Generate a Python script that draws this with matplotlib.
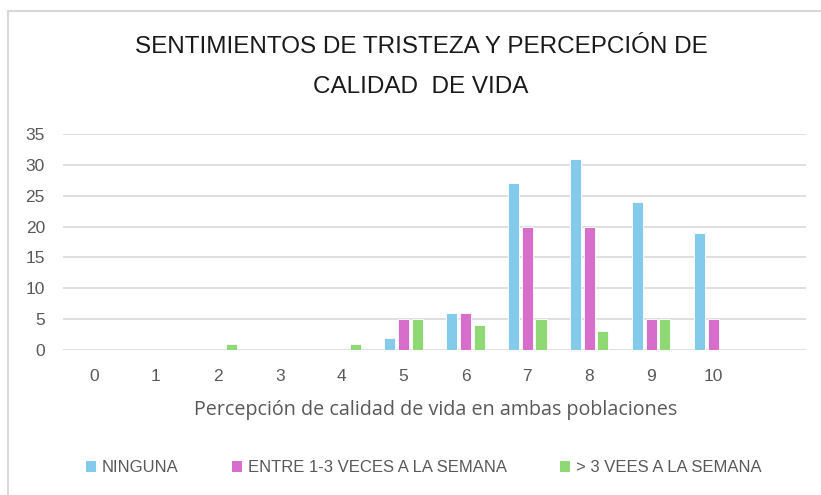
import numpy as np
import matplotlib.pyplot as plt
from matplotlib.lines import Line2D
from matplotlib.patches import Patch

plt.rcParams['font.family'] = ['Liberation Sans', 'DejaVu Sans']

categories = ["0", "1", "2", "3", "4", "5", "6", "7", "8", "9", "10", ""]
ninguna = [0, 0, 0, 0, 0, 2, 6, 27, 31, 24, 19, 0]
entre_1_3 = [0, 0, 0, 0, 0, 5, 6, 20, 20, 5, 5, 0]
mas_de_3 = [0, 0, 1, 0, 1, 5, 4, 5, 3, 5, 0, 0]
series_names = ["NINGUNA", "ENTRE 1-3 VECES A LA SEMANA", "> 3 VEES A LA SEMANA"]
colors = ["#83CAEB", "#D86ECC", "#8ED973"]

fig = plt.figure(figsize=(8.21, 4.95), dpi=100)
ax = fig.add_axes([63 / 821, 1 - 350 / 495, 743 / 821, 216 / 495])

x = np.arange(len(categories))
step = 0.22
width = 0.18
for i, (vals, c) in enumerate(zip([ninguna, entre_1_3, mas_de_3], colors)):
    ax.bar(x + (i - 1) * step, vals, width, color=c, edgecolor="white", linewidth=0.6, zorder=3)

ax.set_xlim(-0.5, len(categories) - 0.5)
ax.set_ylim(0, 35)
ax.set_yticks(np.arange(0, 36, 5))
ax.set_xticks(x)
ax.set_xticklabels(categories)
ax.grid(axis="y", color="#d9d9d9", linewidth=1.2, zorder=0)
for s in ax.spines.values():
    s.set_visible(False)
ax.tick_params(length=0, colors="#595959", labelsize=12.5)
ax.tick_params(axis="y", pad=13)
ax.tick_params(axis="x", pad=14)

fig.text(0.513, 1 - 47 / 495, "SENTIMIENTOS DE TRISTEZA Y PERCEPCIÓN DE", ha="center", va="center",
         fontsize=17.5, color="#1a1a1a")
fig.text(0.513, 1 - 87 / 495, "CALIDAD  DE VIDA", ha="center", va="center",
         fontsize=17.5, color="#1a1a1a")
fig.text(436 / 821, 1 - 410 / 495, "Percepción de calidad de vida en ambas poblaciones", ha="center",
         va="center", fontsize=14.2, color="#595959", family=["Open Sans", "DejaVu Sans"])

handles = [Patch(facecolor=c, edgecolor="none") for c in colors]
fig.legend(handles, series_names, loc="center", bbox_to_anchor=(424 / 821, 1 - 468 / 495), ncol=3,
           frameon=False, fontsize=12, handlelength=0.6, handleheight=0.6, handletextpad=0.35,
           columnspacing=3.2, labelcolor="#595959")

# chart border (left and top visible)
fig.add_artist(Line2D([8 / 821, 8 / 821], [0, 1 - 11 / 495], color="#d9d9d9", linewidth=1.5))
fig.add_artist(Line2D([8 / 821, 1], [1 - 11 / 495, 1 - 11 / 495], color="#d9d9d9", linewidth=1.5))

fig.savefig("out.png", dpi=100)
